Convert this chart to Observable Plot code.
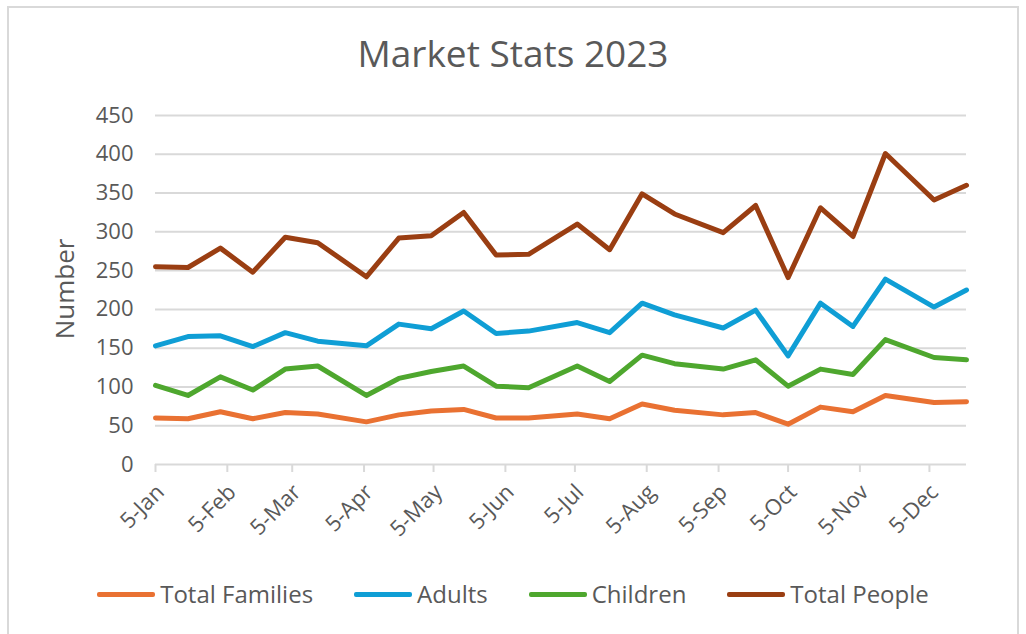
<!DOCTYPE html>
<html>
<head>
<meta charset="utf-8">
<script src="https://cdn.jsdelivr.net/npm/d3@7"></script>
<script src="https://cdn.jsdelivr.net/npm/@observablehq/plot@0.6"></script>
<style>
  html, body { margin: 0; padding: 0; background: #fff; }
  body { width: 1026px; height: 634px; position: relative; overflow: hidden; font-family: "Open Sans", "Noto Sans", sans-serif; color: #595959; }
  #frame { position: absolute; left: 7px; top: 6px; width: 1012px; height: 660px; border: 2px solid #d9d9d9; box-sizing: border-box; }
  #title { position: absolute; left: 0; width: 1026px; top: 30px; text-align: center; font-size: 37px; line-height: 46px; color: #595959; }
  #chart { position: absolute; left: 0; top: 95px; }
  #ylabel { position: absolute; left: 64px; top: 289px; transform: translate(-50%, -50%) rotate(-90deg); font-size: 26px; white-space: nowrap; color: #595959; }
  #legend { position: absolute; top: 578px; left: 0; width: 1026px; display: flex; justify-content: center; gap: 41px; font-size: 24px; line-height: 32px; }
  .item { display: flex; align-items: center; gap: 5px; }
  .sw { width: 58px; height: 5px; border-radius: 2px; }
</style>
</head>
<body>
<div id="frame"></div>
<div id="title">Market Stats 2023</div>
<div id="chart"></div>
<div id="ylabel">Number</div>
<div id="legend"></div>
<script>
// ---- data ----
const dates = [
  "2023-01-05","2023-01-19","2023-02-02","2023-02-16","2023-03-02","2023-03-16",
  "2023-04-06","2023-04-20","2023-05-04","2023-05-18","2023-06-01","2023-06-15",
  "2023-07-06","2023-07-20","2023-08-03","2023-08-17","2023-09-07","2023-09-21",
  "2023-10-05","2023-10-19","2023-11-02","2023-11-16","2023-12-07","2023-12-21"
];
const totalFamilies = [60, 59, 68, 59, 67, 65, 55, 64, 69, 71, 60, 60, 65, 59, 78, 70, 64, 67, 52, 74, 68, 89, 80, 81];
const adults        = [153, 165, 166, 152, 170, 159, 153, 181, 175, 198, 169, 172, 183, 170, 208, 193, 176, 199, 140, 208, 178, 239, 203, 225];
const children      = [102, 89, 113, 96, 123, 127, 89, 111, 120, 127, 101, 99, 127, 107, 141, 130, 123, 135, 101, 123, 116, 161, 138, 135];
const totalPeople   = [255, 254, 279, 248, 293, 286, 242, 292, 295, 325, 270, 271, 310, 277, 349, 323, 299, 334, 241, 331, 294, 401, 341, 360];

const seriesNames  = ["Total Families", "Adults", "Children", "Total People"];
const seriesValues = [totalFamilies, adults, children, totalPeople];
const seriesColors = ["#E97132", "#0F9ED5", "#4EA72E", "#9A3E12"];

const yTicks = [0, 50, 100, 150, 200, 250, 300, 350, 400, 450];
const xTickDates = ["2023-01-05","2023-02-05","2023-03-05","2023-04-05","2023-05-05","2023-06-05",
                    "2023-07-05","2023-08-05","2023-09-05","2023-10-05","2023-11-05","2023-12-05"];
const xTickLabels = ["5-Jan","5-Feb","5-Mar","5-Apr","5-May","5-Jun","5-Jul","5-Aug","5-Sep","5-Oct","5-Nov","5-Dec"];

// ---- build table ----
const parse = d3.utcParse("%Y-%m-%d");
const rows = [];
seriesNames.forEach((name, si) => {
  dates.forEach((d, i) => rows.push({date: parse(d), value: seriesValues[si][i], series: name}));
});
const tickDates = xTickDates.map(parse);
const labelOf = new Map(tickDates.map((d, i) => [+d, xTickLabels[i]]));

const chart = Plot.plot({
  width: 1026,
  height: 460,
  marginTop: 20,
  marginBottom: 91,
  marginLeft: 155,
  marginRight: 60,
  style: {fontFamily: "'Open Sans', sans-serif", background: "transparent", overflow: "visible"},
  x: {type: "utc", domain: [parse(dates[0]), parse(dates[dates.length - 1])]},
  y: {domain: [0, 450]},
  color: {domain: seriesNames, range: seriesColors},
  marks: [
    Plot.gridY(yTicks, {stroke: "#d9d9d9", strokeOpacity: 1, strokeWidth: 2}),
    Plot.axisY(yTicks, {tickSize: 0, tickPadding: 22, fontSize: 22, fill: "#595959", label: null}),
    Plot.axisX(tickDates, {
      tickSize: 8, stroke: "#d9d9d9", strokeWidth: 2,
      tickFormat: () => "", label: null
    }),
    Plot.axisX(tickDates, {
      tickSize: 0, fill: "#595959",
      tickRotate: -45, fontSize: 22, tickPadding: 24, dx: 5,
      tickFormat: d => labelOf.get(+d), label: null
    }),
    Plot.lineY(rows, {x: "date", y: "value", stroke: "series", z: "series",
      strokeWidth: 5, strokeLinejoin: "round", strokeLinecap: "round"})
  ]
});
document.getElementById("chart").appendChild(chart);

// legend
const legend = document.getElementById("legend");
seriesNames.forEach((name, i) => {
  const item = document.createElement("div");
  item.className = "item";
  const sw = document.createElement("div");
  sw.className = "sw";
  sw.style.background = seriesColors[i];
  const t = document.createElement("span");
  t.textContent = name;
  item.appendChild(sw);
  item.appendChild(t);
  legend.appendChild(item);
});
</script>
</body>
</html>
